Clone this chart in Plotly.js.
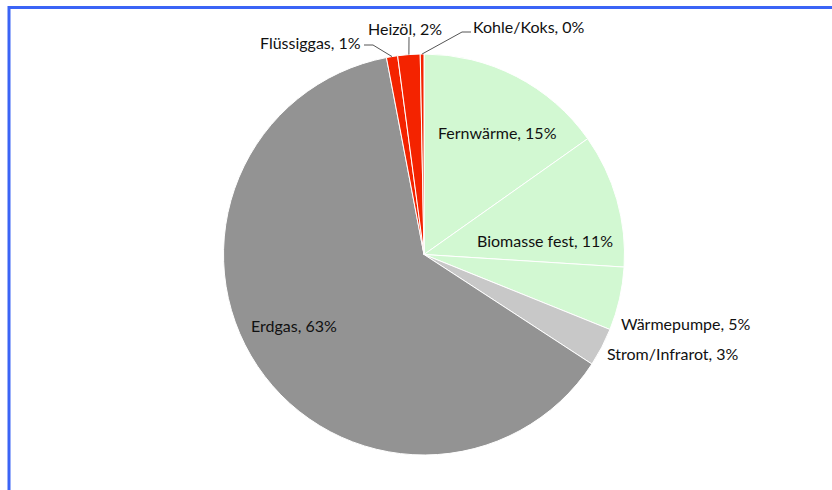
<!DOCTYPE html>
<html>
<head>
<meta charset="utf-8">
<script src="https://cdn.plot.ly/plotly-3.0.1.min.js"></script>
<style>html,body{margin:0;padding:0;background:#fff;}#chart{width:832px;height:490px;}</style>
</head>
<body>
<div id="chart"></div>
<script>
// ---- data ----
const labels = ["Fernwärme", "Biomasse fest", "Wärmepumpe", "Strom/Infrarot", "Erdgas", "Flüssiggas", "Heizöl", "Kohle/Koks"];
const values = [15.2, 10.8, 5.1, 3.1, 62.8, 0.9, 1.8, 0.3];
const colors = ["#d2f8d2", "#d2f8d2", "#d2f8d2", "#c8c8c8", "#939393", "#f42300", "#f42300", "#f42300"];

// ---- layout helpers ----
const W = 832, H = 490;
const cx = 424, cy = 254.5, R = 200.5;
const px = x => x / W;
const py = y => 1 - y / H;

const total = values.reduce((a, b) => a + b, 0);
const pctText = values.map(v => Math.round(v / total * 100) + "%");

// label centres (pixels) for each slice label
const labelPos = [
  [497.5, 132], [545, 240], [686, 323], [673, 353],
  [294, 325], [310, 42], [405, 28], [529, 27]
];

// mid-angle edge point of a slice (clockwise from 12 o'clock)
function edgePoint(i) {
  let before = 0;
  for (let k = 0; k < i; k++) before += values[k];
  const mid = (before + values[i] / 2) / total * 2 * Math.PI;
  return [cx + R * Math.sin(mid), cy - R * Math.cos(mid)];
}

const annotations = labels.map((l, i) => ({
  x: px(labelPos[i][0]), y: py(labelPos[i][1]), xref: "paper", yref: "paper",
  xanchor: "center", yanchor: "middle", showarrow: false,
  text: l + ", " + pctText[i],
  font: {family: "Lato, 'Open Sans', sans-serif", size: 16, color: "#111111"}
}));

// leader lines for the small top slices
const leaders = [
  {i: 5, pts: [[364, 45], [373, 45]]},
  {i: 6, pts: [[409, 37]]},
  {i: 7, pts: [[471, 32], [462, 32]]}
];
const shapes = leaders.map(d => {
  const e = edgePoint(d.i);
  const all = d.pts.concat([e]);
  const path = all.map((p, k) => (k ? "L" : "M") + px(p[0]).toFixed(5) + "," + py(p[1]).toFixed(5)).join(" ");
  return {type: "path", xref: "paper", yref: "paper", path: path, line: {color: "#555555", width: 1}};
});
// blue frame (top and left edges)
shapes.push({type: "line", xref: "paper", yref: "paper", x0: px(8), x1: 1, y0: py(7.5), y1: py(7.5), line: {color: "#3b64f6", width: 3}});
shapes.push({type: "line", xref: "paper", yref: "paper", x0: px(9), x1: px(9), y0: py(6), y1: 0, line: {color: "#3b64f6", width: 3}});

const trace = {
  type: "pie",
  labels: labels,
  values: values,
  sort: false,
  direction: "clockwise",
  rotation: 0,
  textinfo: "none",
  hoverinfo: "label+percent",
  marker: {colors: colors, line: {color: "#ffffff", width: 1}},
  domain: {x: [px(cx - R), px(cx + R)], y: [py(cy + R), py(cy - R)]},
  showlegend: false
};

const layout = {
  width: W, height: H,
  margin: {l: 0, r: 0, t: 0, b: 0},
  paper_bgcolor: "#ffffff",
  showlegend: false,
  annotations: annotations,
  shapes: shapes
};

Plotly.newPlot("chart", [trace], layout, {displayModeBar: false, staticPlot: true});
</script>
</body>
</html>
